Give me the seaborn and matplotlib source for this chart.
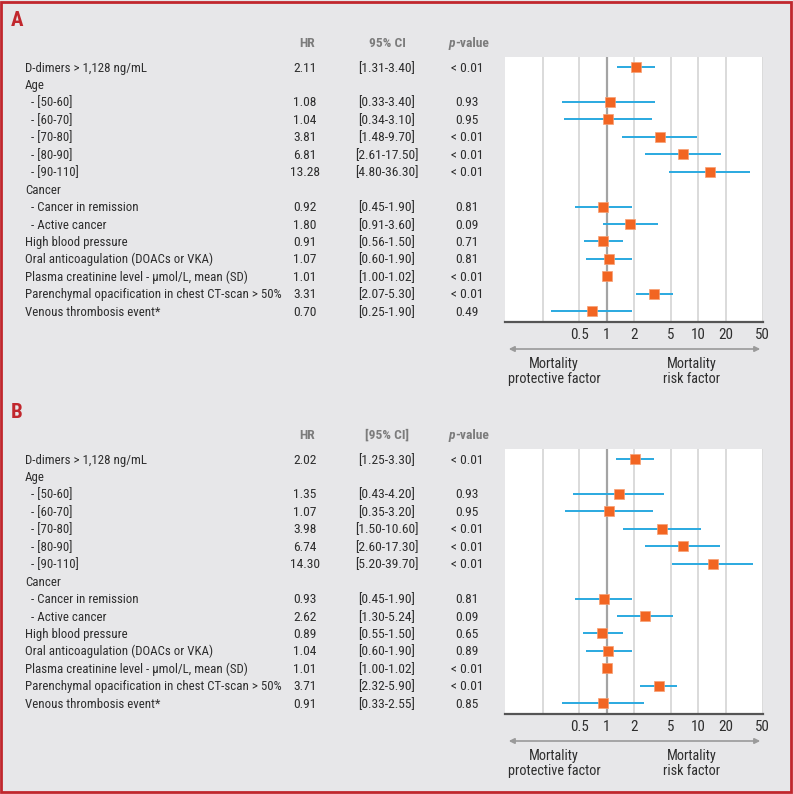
import numpy as np
import pandas as pd
import matplotlib
matplotlib.use("Agg")
import matplotlib.pyplot as plt
import matplotlib.transforms as mtransforms
from matplotlib import font_manager
from matplotlib.patches import Rectangle, FancyArrowPatch
import seaborn as sns

nan = np.nan

# row labels (same for both panels)
labels = ["D-dimers > 1,128 ng/mL", "Age", "- [50-60]", "- [60-70]", "- [70-80]",
          "- [80-90]", "- [90-110]", "Cancer", "- Cancer in remission", "- Active cancer",
          "High blood pressure", "Oral anticoagulation (DOACs or VKA)",
          "Plasma creatinine level - \u03bcmol/L, mean (SD)",
          "Parenchymal opacification in chest CT-scan > 50%", "Venous thrombosis event*"]
sub_row = [False, False, True, True, True, True, True, False, True, True,
           False, False, False, False, False]

# panel A
hr_a = [2.11, nan, 1.08, 1.04, 3.81, 6.81, 13.28, nan, 0.92, 1.80, 0.91, 1.07, 1.01, 3.31, 0.70]
lo_a = [1.31, nan, 0.33, 0.34, 1.48, 2.61, 4.80, nan, 0.45, 0.91, 0.56, 0.60, 1.00, 2.07, 0.25]
hi_a = [3.40, nan, 3.40, 3.10, 9.70, 17.50, 36.30, nan, 1.90, 3.60, 1.50, 1.90, 1.02, 5.30, 1.90]
p_a = ["< 0.01", "", "0.93", "0.95", "< 0.01", "< 0.01", "< 0.01", "", "0.81", "0.09",
       "0.71", "0.81", "< 0.01", "< 0.01", "0.49"]

# panel B
hr_b = [2.02, nan, 1.35, 1.07, 3.98, 6.74, 14.30, nan, 0.93, 2.62, 0.89, 1.04, 1.01, 3.71, 0.91]
lo_b = [1.25, nan, 0.43, 0.35, 1.50, 2.60, 5.20, nan, 0.45, 1.30, 0.55, 0.60, 1.00, 2.32, 0.33]
hi_b = [3.30, nan, 4.20, 3.20, 10.60, 17.30, 39.70, nan, 1.90, 5.24, 1.50, 1.90, 1.02, 5.90, 2.55]
p_b = ["< 0.01", "", "0.93", "0.95", "< 0.01", "< 0.01", "< 0.01", "", "0.81", "0.09",
       "0.65", "0.89", "< 0.01", "< 0.01", "0.85"]

tick_vals = [0.5, 1, 2, 5, 10, 20, 50]
grid_vals = [0.2, 0.5, 1, 2, 5, 10, 20, 50]

sns.set_style("white")

# condensed font if there is one, else a plain sans at a smaller size
installed = {f.name for f in font_manager.fontManager.ttflist}
narrow = next((n for n in ["Liberation Sans Narrow", "Roboto Condensed", "Open Sans Condensed",
                           "Arial Narrow"] if n in installed), None)
if narrow:
    plt.rcParams['font.family'] = [narrow, 'DejaVu Sans']
    FS = 9.3
else:
    plt.rcParams['font.family'] = ['Liberation Sans', 'DejaVu Sans']
    FS = 8.6

W, H = 793, 794
ROW_PX = 17.45
BASE_PX = 4.6  # baseline offset below the row centre, in pixels
BG = '#e7e7e9'
RED = '#c1272d'
BLUE = '#2aa9e0'
ORANGE = '#f26522'
TXT = '#2e2e2e'
HEAD = '#7c7c7c'


def fx(px):
    return px / W


def fy(py):
    return 1 - py / H


fig = plt.figure(figsize=(W / 100, H / 100), dpi=100, facecolor=BG)


def draw_panel(top, letter, ci_head, hr, lo, hi, pv):
    ax = fig.add_axes([fx(505), fy(top + 265), fx(763) - fx(505), 265 / H])
    ax.set_facecolor('white')
    rows = np.arange(len(labels))
    df = pd.DataFrame({'row': rows, 'hr': hr, 'lo': lo, 'hi': hi}).dropna()

    for g in grid_vals:
        ax.axvline(g, color='#a4a4a4' if g == 1 else '#d4d4d4', lw=1.6 if g == 1 else 1.2, zorder=1)
    ax.hlines(df['row'], df['lo'], df['hi'], color=BLUE, lw=1.4, zorder=2)
    sns.scatterplot(data=df, x='hr', y='row', marker='s', s=55, color=ORANGE,
                    edgecolor='#f7a074', linewidth=0.5, zorder=3, ax=ax, legend=False)

    ax.set_xscale('log')
    ax.set_xlim(0.078, 50.6)
    ax.set_ylim(14.62, -0.57)
    ax.set_xticks(tick_vals)
    ax.set_xticklabels([f"{t:g}" for t in tick_vals])
    ax.minorticks_off()
    ax.set_yticks([])
    ax.set_xlabel('')
    ax.set_ylabel('')
    for s in ['top', 'left', 'right']:
        ax.spines[s].set_visible(False)
    ax.spines['bottom'].set_color('#555555')
    ax.spines['bottom'].set_linewidth(1.6)
    ax.tick_params(axis='x', direction='out', length=3, width=1, color='#555555',
                   labelsize=FS + 1.5, labelcolor=TXT, pad=1.5)

    trans = mtransforms.blended_transform_factory(fig.transFigure, ax.transData)
    off = BASE_PX / ROW_PX
    for i, lab in enumerate(labels):
        y = i + off
        ax.text(fx(31 if sub_row[i] else 25), y, lab, transform=trans, ha='left', va='baseline',
                fontsize=FS, color=TXT, clip_on=False)
        if not np.isnan(hr[i]):
            ax.text(fx(305), y, f"{hr[i]:.2f}", transform=trans, ha='center', va='baseline',
                    fontsize=FS + 0.4, color=TXT, clip_on=False)
            ax.text(fx(387), y, f"[{lo[i]:.2f}-{hi[i]:.2f}]", transform=trans, ha='center',
                    va='baseline', fontsize=FS + 0.4, color=TXT, clip_on=False)
            ax.text(fx(467), y, pv[i], transform=trans, ha='center', va='baseline',
                    fontsize=FS + 0.4, color=TXT, clip_on=False)

    hy = -1.42 + off
    ax.text(fx(307), hy, "HR", transform=trans, ha='center', va='baseline', fontsize=FS + 0.4,
            color=HEAD, fontweight='bold', clip_on=False)
    ax.text(fx(387), hy, ci_head, transform=trans, ha='center', va='baseline', fontsize=FS + 0.4,
            color=HEAD, fontweight='bold', clip_on=False)
    ax.text(fx(455), hy, "p", transform=trans, ha='right', va='baseline', fontsize=FS + 0.4,
            color=HEAD, fontweight='bold', fontstyle='italic', clip_on=False)
    ax.text(fx(455), hy, "-value", transform=trans, ha='left', va='baseline', fontsize=FS + 0.4,
            color=HEAD, fontweight='bold', clip_on=False)

    fig.text(fx(11), fy(top - 37 + 6), letter, ha='left', va='baseline', fontsize=15,
             fontweight='bold', color=RED)

    # direction arrow
    ya = fy(top + 292)
    fig.add_artist(FancyArrowPatch(
        (fx(506), ya), (fx(763), ya), transform=fig.transFigure, arrowstyle='<|-|>',
        mutation_scale=8, color='#9a9a9a', lw=1.2))
    for xc, words in [(554, ("Mortality", "protective factor")), (692, ("Mortality", "risk factor"))]:
        fig.text(fx(xc), fy(top + 306 + BASE_PX), words[0], ha='center', va='baseline',
                 fontsize=FS + 1, color=TXT)
        fig.text(fx(xc), fy(top + 321 + BASE_PX), words[1], ha='center', va='baseline',
                 fontsize=FS + 1, color=TXT)
    return ax


draw_panel(57, "A", "95% CI", hr_a, lo_a, hi_a, p_a)
draw_panel(449, "B", "[95% CI]", hr_b, lo_b, hi_b, p_b)

fig.patches.append(Rectangle((fx(1), fy(792)), fx(790), 790 / H, transform=fig.transFigure,
                             fill=False, edgecolor=RED, lw=2))

fig.savefig("out.png", dpi=100, facecolor=BG)
